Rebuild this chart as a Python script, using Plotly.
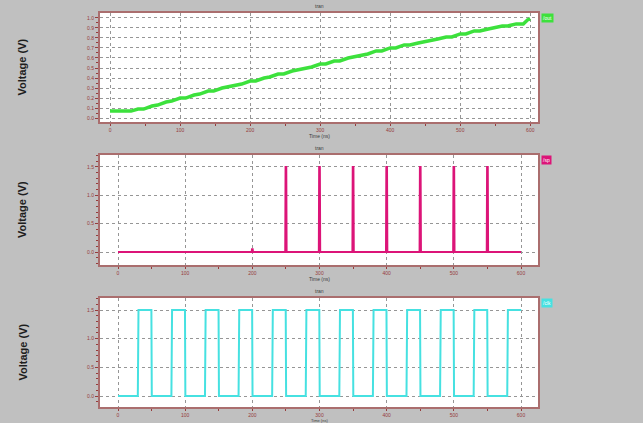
import plotly.graph_objects as go

# ---- data ----
ramp_t = [0, 30, 40, 48, 60, 68, 80, 88, 100, 108, 120, 128, 140, 148, 160, 168, 180, 188, 200, 208,
          220, 228, 240, 248, 260, 268, 280, 288, 300, 308, 320, 328, 340, 348, 360, 368, 380, 388,
          400, 408, 420, 428, 440, 448, 460, 468, 480, 488, 500, 508, 520, 528, 540, 548, 560, 568,
          580, 590, 596, 600]
ramp_v = [0.07, 0.07, 0.09, 0.09, 0.12, 0.13, 0.16, 0.17, 0.20, 0.20, 0.23, 0.24, 0.27, 0.27, 0.30, 0.31,
          0.33, 0.34, 0.37, 0.37, 0.40, 0.41, 0.44, 0.44, 0.47, 0.48, 0.50, 0.51, 0.54, 0.54, 0.57, 0.57,
          0.60, 0.61, 0.63, 0.64, 0.67, 0.67, 0.70, 0.70, 0.73, 0.73, 0.75, 0.76, 0.78, 0.79, 0.81, 0.81,
          0.84, 0.84, 0.87, 0.87, 0.89, 0.90, 0.92, 0.92, 0.94, 0.94, 0.98, 0.99]

spike_times = [200, 250, 300, 350, 400, 450, 500, 550]
spike_heights = [0.05, 1.5, 1.5, 1.5, 1.5, 1.5, 1.5, 1.5]
spike_end = 600

clk_rise = [30, 80, 130, 180, 230, 280, 330, 380, 430, 480, 530, 580]
clk_fall = [50, 100, 150, 200, 250, 300, 350, 400, 450, 500, 550, 600]
clk_high = 1.5
clk_low = 0.0

y1_ticks = [0.0, 0.1, 0.2, 0.3, 0.4, 0.5, 0.6, 0.7, 0.8, 0.9, 1.0]
y23_ticks = [0.0, 0.5, 1.0, 1.5]
x_ticks = [0, 100, 200, 300, 400, 500, 600]

# ---- build polylines ----
sp_x, sp_y = [0], [0.0]
for t, h in zip(spike_times, spike_heights):
    sp_x += [t - 1, t - 0.5, t + 0.5, t + 1]
    sp_y += [0.0, h, h, 0.0]
sp_x.append(spike_end)
sp_y.append(0.0)

ck_x, ck_y = [0], [clk_low]
for r, f in zip(clk_rise, clk_fall):
    ck_x += [r - 0.5, r + 0.5, f - 0.3, f + 0.3]
    ck_y += [clk_low, clk_high, clk_high, clk_low if f < 600 else clk_high]

GREEN = "rgb(60,225,60)"
MAGENTA = "rgb(220,20,120)"
CYAN = "rgb(70,225,225)"
BORDER = "rgb(170,110,110)"
TICKC = "rgb(150,60,60)"
GRID = "rgb(150,150,150)"

fig = go.Figure()
fig.add_trace(go.Scatter(x=ramp_t, y=ramp_v, mode="lines", line=dict(color=GREEN, width=3.5),
                         xaxis="x", yaxis="y", showlegend=False))
fig.add_trace(go.Scatter(x=sp_x, y=sp_y, mode="lines", line=dict(color=MAGENTA, width=2),
                         xaxis="x2", yaxis="y2", showlegend=False))
fig.add_trace(go.Scatter(x=ck_x, y=ck_y, mode="lines", line=dict(color=CYAN, width=2),
                         xaxis="x3", yaxis="y3", showlegend=False))

W, H = 643, 423
xd = [100 / W, 538 / W]

def ydom(top, bot):
    return [1 - bot / H, 1 - top / H]

def xax(rng, anchor):
    return dict(domain=xd, range=rng, anchor=anchor, tickvals=x_ticks, ticktext=[str(v) for v in x_ticks],
                tickfont=dict(size=5, color=TICKC, family="Arial"), ticks="outside", ticklen=2,
                ticklabelstandoff=0,
                tickcolor=TICKC, showgrid=True, gridcolor=GRID, griddash="dot", gridwidth=1,
                showline=True, linecolor=BORDER, linewidth=2, mirror=True, zeroline=False,
                minor=dict(ticks="outside", ticklen=2, tickcolor=TICKC, nticks=5, showgrid=False))

def yax(rng, anchor, dom, ticks):
    return dict(domain=dom, range=rng, anchor=anchor, tickvals=ticks, ticktext=[f"{v:.1f}" for v in ticks],
                tickfont=dict(size=5, color=TICKC, family="Arial"), ticks="outside", ticklen=3,
                tickcolor=TICKC, showgrid=True, gridcolor=GRID, griddash="dot", gridwidth=1,
                showline=True, linecolor=BORDER, linewidth=2, mirror=True, zeroline=False,
                minor=dict(ticks="outside", ticklen=2, tickcolor=TICKC, nticks=6, showgrid=False))

fig.update_layout(
    width=W, height=H, margin=dict(l=0, r=0, t=0, b=0),
    paper_bgcolor="rgb(192,192,192)", plot_bgcolor="white",
    xaxis=xax([-14.3, 611], "y"),
    yaxis=yax([-0.039, 1.049], "x", ydom(13, 122), y1_ticks),
    xaxis2=xax([-26.8, 625.3], "y2"),
    yaxis2=yax([-0.229, 1.711], "x2", ydom(155, 265), y23_ticks),
    xaxis3=xax([-26.8, 625.3], "y3"),
    yaxis3=yax([-0.192, 1.710], "x3", ydom(298, 407), y23_ticks),
)

ann = []
for top, bot, col, lab in [(13, 122, GREEN, "/out"), (155, 265, MAGENTA, "/sp"), (298, 407, CYAN, "/clk")]:
    mid = (top + bot) / 2
    ann.append(dict(text="<b>Voltage (V)</b>", x=22 / W, y=1 - mid / H, xref="paper", yref="paper",
                    xanchor="center", yanchor="middle",
                    textangle=-90, showarrow=False, font=dict(size=11, color="rgb(30,30,30)", family="Arial")))
    ann.append(dict(text="tran", x=319 / W, y=1 - (top - 7) / H, xref="paper", yref="paper",
                    xanchor="center", yanchor="middle",
                    showarrow=False, font=dict(size=5, color="rgb(60,60,60)", family="Arial")))
    if bot < 400:
        ann.append(dict(text="Time (ns)", x=319 / W, y=1 - (bot + 14) / H, xref="paper", yref="paper",
                        xanchor="center", yanchor="middle",
                        showarrow=False, font=dict(size=5, color="rgb(60,60,60)", family="Arial")))
    else:
        ann.append(dict(text="Time (ns)", x=319 / W, y=0, xref="paper", yref="paper",
                        xanchor="center", yanchor="bottom", yshift=-1, borderpad=0,
                        showarrow=False, font=dict(size=4, color="rgb(60,60,60)", family="Arial")))
    ann.append(dict(text=lab, x=541 / W, y=1 - (top + 5) / H, xref="paper", yref="paper", xanchor="left",
                    yanchor="middle",
                    showarrow=False, bgcolor=col, font=dict(size=5, color="white", family="Arial")))
fig.update_layout(annotations=ann)

fig.write_html("out.html", config={"displayModeBar": False},
               post_script="document.body.style.margin='0';document.body.style.background='rgb(192,192,192)';")
